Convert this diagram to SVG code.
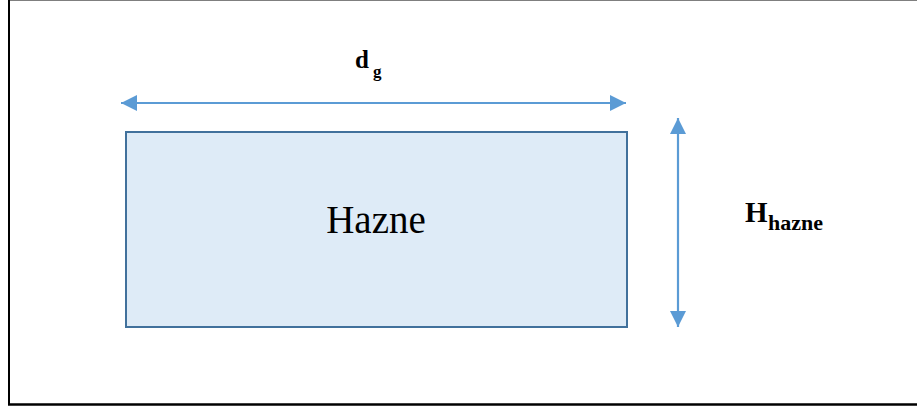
<svg xmlns="http://www.w3.org/2000/svg" width="917" height="412" viewBox="0 0 917 412">
  <style>
    .frame { fill: #ffffff; }
    .tank { fill: #DEEBF7; stroke: #41719C; stroke-width: 2; }
    .dim { stroke: #5B9BD5; stroke-width: 2.2; fill: none; }
    .lbl { font-family: "Liberation Serif", "Times New Roman", serif; fill: #000000; }
    .b { font-weight: bold; }
  </style>
  <defs>
    <marker id="tip" viewBox="0 0 16 16" refX="16" refY="8" markerWidth="16" markerHeight="16" markerUnits="userSpaceOnUse" orient="auto-start-reverse">
      <path d="M0,0 L16,8 L0,16 Z" fill="#5B9BD5"/>
    </marker>
  </defs>

  <!-- outer frame -->
  <rect class="frame" x="0" y="0" width="917" height="412"/>
  <line x1="9" y1="0.5" x2="917" y2="0.5" stroke="#7f7f7f" stroke-width="1"/>
  <line x1="9" y1="0" x2="9" y2="405" stroke="#000000" stroke-width="2"/>
  <line x1="8" y1="404.5" x2="917" y2="404.5" stroke="#000000" stroke-width="2.4"/>

  <!-- tank -->
  <g id="hazne">
    <rect class="tank" x="126" y="132" width="501" height="195"/>
    <text class="lbl" x="376" y="233" font-size="39" text-anchor="middle">Hazne</text>
  </g>

  <!-- dimension arrows -->
  <g id="connectors">
    <line class="dim" x1="121" y1="103" x2="626" y2="103" marker-start="url(#tip)" marker-end="url(#tip)"/>
    <line class="dim" x1="678" y1="118" x2="678" y2="327" marker-start="url(#tip)" marker-end="url(#tip)"/>
  </g>

  <!-- dimension labels -->
  <g id="label-dg">
    <text class="lbl b" x="355" y="68" font-size="25">d</text>
    <text class="lbl b" x="373" y="77" font-size="17">g</text>
  </g>
  <g id="label-hhazne">
    <text class="lbl b" x="745" y="222" font-size="29">H</text>
    <text class="lbl b" x="768" y="230" font-size="20" textLength="55" lengthAdjust="spacingAndGlyphs">hazne</text>
  </g>
</svg>
